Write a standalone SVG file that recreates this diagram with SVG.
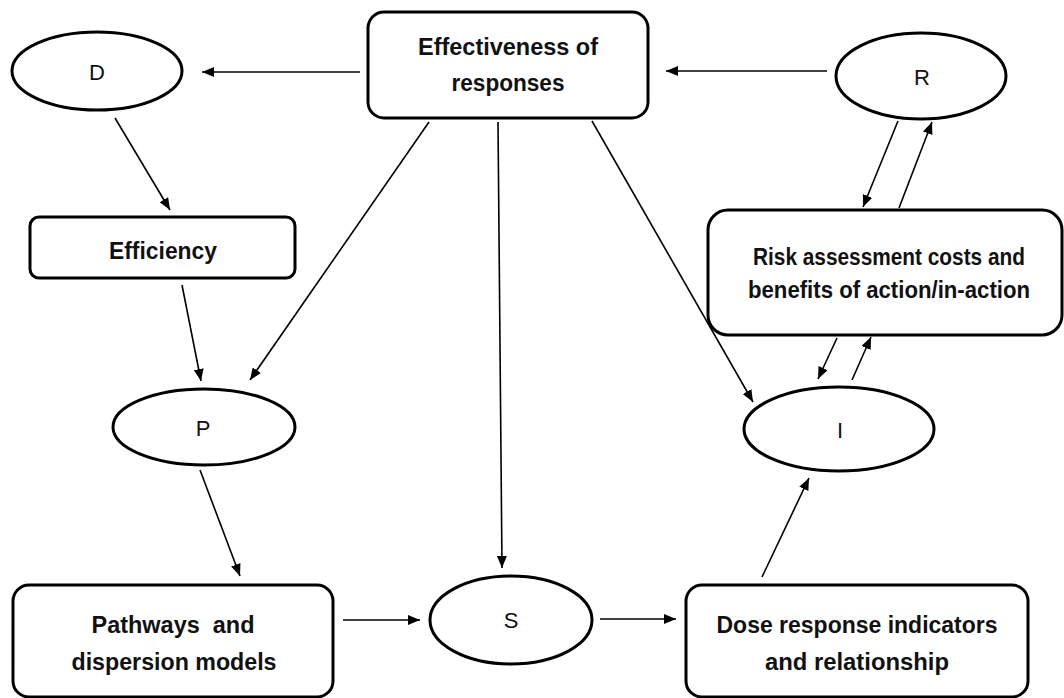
<svg xmlns="http://www.w3.org/2000/svg" width="1064" height="698" viewBox="0 0 1064 698">
  <style>
    .box { fill: #fff; stroke: #000; stroke-width: 3; }
    .oval { fill: #fff; stroke: #000; stroke-width: 3; }
    .lbl { font-family: "Liberation Sans", Arial, sans-serif; font-size: 23px; font-weight: bold; fill: #111; text-anchor: middle; }
    .sym { font-family: "Liberation Sans", Arial, sans-serif; font-size: 22px; fill: #111; text-anchor: middle; dominant-baseline: central; }
    .edge { stroke: #000; stroke-width: 1.6; fill: none; marker-end: url(#head); }
  </style>
  <defs>
    <marker id="head" viewBox="0 0 12 10" refX="12" refY="5" markerWidth="12" markerHeight="10" markerUnits="userSpaceOnUse" orient="auto">
      <path d="M0,0 L12,5 L0,10 Z" fill="#000"/>
    </marker>
  </defs>
  <rect width="1064" height="698" fill="#fff"/>

  <g id="connectors">
    <line class="edge" x1="360" y1="72" x2="202" y2="72"/>
    <line class="edge" x1="827" y1="71" x2="666" y2="71"/>
    <line class="edge" x1="115" y1="118" x2="170" y2="210"/>
    <line class="edge" x1="182" y1="285" x2="201" y2="381"/>
    <line class="edge" x1="429" y1="122" x2="250" y2="380"/>
    <line class="edge" x1="498" y1="122" x2="502" y2="568"/>
    <line class="edge" x1="592" y1="121" x2="753" y2="402"/>
    <line class="edge" x1="200" y1="470" x2="240" y2="576"/>
    <line class="edge" x1="343" y1="620" x2="420" y2="620"/>
    <line class="edge" x1="600" y1="619" x2="676" y2="619"/>
    <line class="edge" x1="762" y1="577" x2="809" y2="478"/>
    <line class="edge" x1="898" y1="121" x2="863" y2="207"/>
    <line class="edge" x1="899" y1="208" x2="932" y2="122"/>
    <line class="edge" x1="837" y1="338" x2="818" y2="379"/>
    <line class="edge" x1="852" y1="380" x2="871" y2="337"/>
  </g>

  <g id="node-effectiveness">
    <rect class="box" x="368" y="12" width="280" height="106" rx="16"/>
    <text class="lbl" x="508" y="55" textLength="180" lengthAdjust="spacingAndGlyphs">Effectiveness of</text>
    <text class="lbl" x="508" y="91" textLength="113" lengthAdjust="spacingAndGlyphs">responses</text>
  </g>

  <g id="node-d">
    <ellipse class="oval" cx="97" cy="71" rx="85" ry="39"/>
    <text class="sym" x="97" y="72">D</text>
  </g>

  <g id="node-r">
    <ellipse class="oval" cx="921" cy="76" rx="85" ry="43"/>
    <text class="sym" x="922" y="77">R</text>
  </g>

  <g id="node-efficiency">
    <rect class="box" x="30" y="217" width="265" height="61" rx="9"/>
    <text class="lbl" x="163" y="259" textLength="108" lengthAdjust="spacingAndGlyphs">Efficiency</text>
  </g>

  <g id="node-risk">
    <rect class="box" x="708" y="210" width="354" height="125" rx="20"/>
    <text class="lbl" x="889" y="265" textLength="272" lengthAdjust="spacingAndGlyphs">Risk assessment costs and</text>
    <text class="lbl" x="889" y="298" textLength="282" lengthAdjust="spacingAndGlyphs">benefits of action/in-action</text>
  </g>

  <g id="node-p">
    <ellipse class="oval" cx="204" cy="427" rx="91" ry="38"/>
    <text class="sym" x="203" y="428">P</text>
  </g>

  <g id="node-i">
    <ellipse class="oval" cx="839" cy="429" rx="95" ry="42"/>
    <text class="sym" x="840" y="430">I</text>
  </g>

  <g id="node-s">
    <ellipse class="oval" cx="511" cy="620" rx="81" ry="44"/>
    <text class="sym" x="511" y="620">S</text>
  </g>

  <g id="node-pathways">
    <rect class="box" x="13" y="585" width="320" height="112" rx="16"/>
    <text class="lbl" x="173" y="633" textLength="163" lengthAdjust="spacingAndGlyphs" xml:space="preserve">Pathways  and</text>
    <text class="lbl" x="174" y="670" textLength="205" lengthAdjust="spacingAndGlyphs">dispersion models</text>
  </g>

  <g id="node-dose">
    <rect class="box" x="686" y="585" width="342" height="112" rx="16"/>
    <text class="lbl" x="857" y="633" textLength="281" lengthAdjust="spacingAndGlyphs">Dose response indicators</text>
    <text class="lbl" x="857" y="670" textLength="184" lengthAdjust="spacingAndGlyphs">and relationship</text>
  </g>
</svg>
